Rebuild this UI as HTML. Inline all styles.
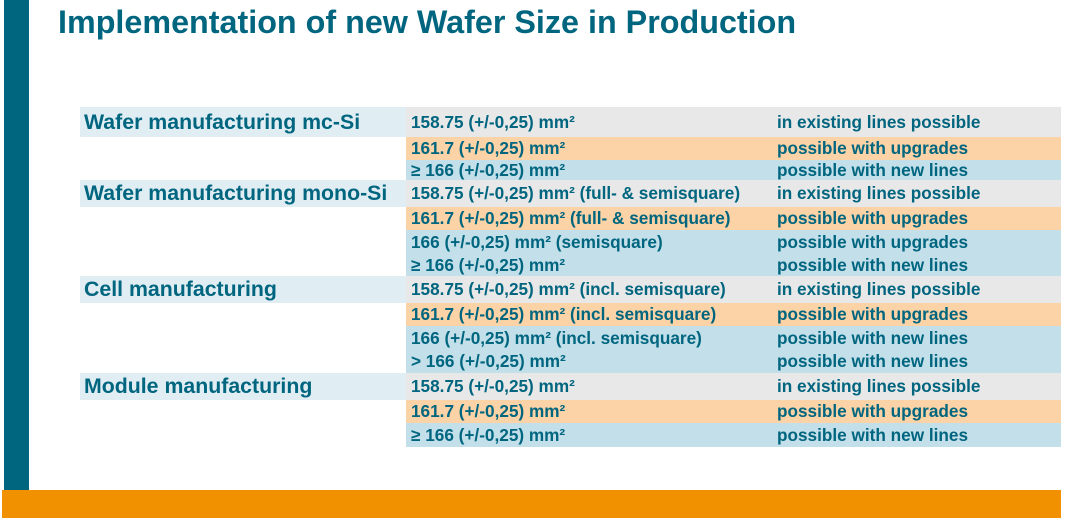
<!DOCTYPE html>
<html><head><style>
body{margin:0;width:1065px;height:523px;background:#fff;position:relative;overflow:hidden;font-family:"Liberation Sans",Arial,sans-serif;font-weight:bold;color:#00657f}
.a{position:absolute}
.r{position:absolute;left:406px;width:655px;font-size:17.2px;display:flex;align-items:center}
.r span{position:absolute;left:5px}
.r b{position:absolute;left:371px}
.g{background:#e8e8e8}.o{background:#fcd3a6}.b{background:#c2dfea}
.l{position:absolute;left:80px;width:326px;background:#e0eef4;font-size:21.3px;display:flex;align-items:center;padding-left:4px;box-sizing:border-box}
</style></head><body>
<div class="a" style="left:4px;top:0;width:25px;height:490px;background:#00657f"></div>
<div class="a" style="left:2px;top:490px;width:1059px;height:28px;background:#f29100"></div>
<div class="a" style="left:58px;top:4px;font-size:32.3px">Implementation of new Wafer Size in Production</div>

<div class="l" style="top:107px;height:30px">Wafer manufacturing mc-Si</div>
<div class="r g" style="top:107px;height:30px"><span>158.75 (+/-0,25) mm²</span><b>in existing lines possible</b></div>
<div class="r o" style="top:137px;height:23px"><span>161.7 (+/-0,25) mm²</span><b>possible with upgrades</b></div>
<div class="r b" style="top:160px;height:20px"><span>≥ 166 (+/-0,25) mm²</span><b>possible with new lines</b></div>

<div class="l" style="top:180px;height:27px">Wafer manufacturing mono-Si</div>
<div class="r g" style="top:180px;height:27px"><span>158.75 (+/-0,25) mm² (full- &amp; semisquare)</span><b>in existing lines possible</b></div>
<div class="r o" style="top:207px;height:23px"><span>161.7 (+/-0,25) mm² (full- &amp; semisquare)</span><b>possible with upgrades</b></div>
<div class="r b" style="top:230px;height:46px"></div>
<div class="r" style="top:230px;height:24px"><span>166 (+/-0,25) mm² (semisquare)</span><b>possible with upgrades</b></div>
<div class="r" style="top:254px;height:22px"><span>≥ 166 (+/-0,25) mm²</span><b>possible with new lines</b></div>

<div class="l" style="top:276px;height:27px">Cell manufacturing</div>
<div class="r g" style="top:276px;height:27px"><span>158.75 (+/-0,25) mm² (incl. semisquare)</span><b>in existing lines possible</b></div>
<div class="r o" style="top:303px;height:23px"><span>161.7 (+/-0,25) mm² (incl. semisquare)</span><b>possible with upgrades</b></div>
<div class="r b" style="top:326px;height:47px"></div>
<div class="r" style="top:326px;height:24px"><span>166 (+/-0,25) mm² (incl. semisquare)</span><b>possible with new lines</b></div>
<div class="r" style="top:350px;height:23px"><span>&gt; 166 (+/-0,25) mm²</span><b>possible with new lines</b></div>

<div class="l" style="top:373px;height:27px">Module manufacturing</div>
<div class="r g" style="top:373px;height:27px"><span>158.75 (+/-0,25) mm²</span><b>in existing lines possible</b></div>
<div class="r o" style="top:400px;height:23px"><span>161.7 (+/-0,25) mm²</span><b>possible with upgrades</b></div>
<div class="r b" style="top:423px;height:24px"><span>≥ 166 (+/-0,25) mm²</span><b>possible with new lines</b></div>
</body></html>
